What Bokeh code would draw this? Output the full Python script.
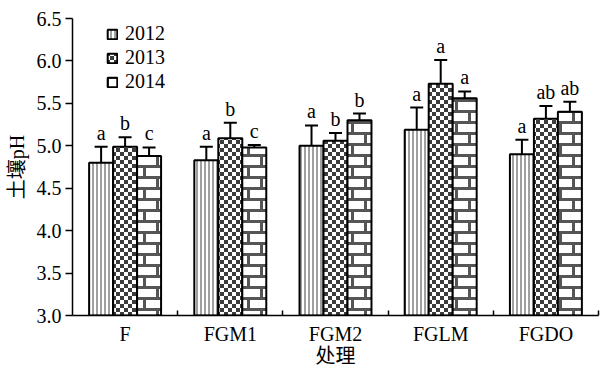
import base64, struct, zlib
from bokeh.plotting import figure
from bokeh.models import (ColumnDataSource, FixedTicker, Whisker, TeeHead, Legend, LegendItem,
                          ImageURLTexture, PrintfTickFormatter)
from bokeh.core.properties import value
from bokeh.embed import file_html
from bokeh.resources import INLINE

# ---- data ----
treatments = ["F", "FGM1", "FGM2", "FGLM", "FGDO"]
years = ["2012", "2013", "2014"]
ph_2012 = [4.80, 4.83, 5.00, 5.19, 4.90]
ph_2013 = [4.99, 5.09, 5.06, 5.73, 5.32]
ph_2014 = [4.88, 4.98, 5.30, 5.56, 5.40]
err_2012 = [0.19, 0.16, 0.24, 0.26, 0.17]
err_2013 = [0.11, 0.18, 0.09, 0.28, 0.15]
err_2014 = [0.10, 0.03, 0.08, 0.08, 0.12]
sig_2012 = ["a", "a", "a", "a", "a"]
sig_2013 = ["b", "b", "b", "a", "ab"]
sig_2014 = ["c", "c", "b", "a", "ab"]
y_ticks = [3.0, 3.5, 4.0, 4.5, 5.0, 5.5, 6.0, 6.5]


def png_data_url(rows):
    h = len(rows); w = len(rows[0])
    raw = b"".join(b"\x00" + bytes([c for px in r for c in px]) for r in rows)
    def chunk(t, d):
        c = struct.pack(">I", len(d)) + t + d
        return c + struct.pack(">I", zlib.crc32(t + d) & 0xffffffff)
    png = b"\x89PNG\r\n\x1a\n" + chunk(b"IHDR", struct.pack(">IIBBBBB", w, h, 8, 2, 0, 0, 0)) \
        + chunk(b"IDAT", zlib.compress(raw)) + chunk(b"IEND", b"")
    return "data:image/png;base64," + base64.b64encode(png).decode()

W = (255, 255, 255)
G = (160, 160, 160)
D = (60, 60, 60)
M = (85, 85, 85)

stripes = [[G, G, W, W] for _ in range(4)]
checker = [[(D if ((x // 4) + (y // 4)) % 2 == 0 else W) for x in range(8)] for y in range(8)]
brick = []
for y in range(22):
    row = []
    for x in range(26):
        yy = y % 11
        if yy < 3:
            row.append(M)
        else:
            if y < 11:
                row.append(M if x < 3 else W)
            else:
                row.append(M if 13 <= x < 16 else W)
    brick.append(row)

textures = {
    "t2012": ImageURLTexture(url=png_data_url(stripes), repetition="repeat"),
    "t2013": ImageURLTexture(url=png_data_url(checker), repetition="repeat"),
    "t2014": ImageURLTexture(url=png_data_url(brick), repetition="repeat"),
}

SERIF = "Liberation Serif, Noto Sans CJK SC"
FS = "20px"

p = figure(frame_width=526, frame_height=297, x_range=(0, 5), y_range=(3.0, 6.5),
           output_backend="svg", toolbar_location=None,
           min_border_left=72, min_border_top=18, min_border_right=4, min_border_bottom=0)
p.outline_line_color = None
p.xgrid.visible = False
p.ygrid.visible = False
p.background_fill_color = None
p.border_fill_color = "white"

bw = 0.228
offsets = [-bw, 0.0, bw]
series = [(ph_2012, err_2012, sig_2012), (ph_2013, err_2013, sig_2013), (ph_2014, err_2014, sig_2014)]
items = []
for k, (vals, errs, sigs) in enumerate(series):
    key = "t" + years[k]
    xs = [i + 0.5 + offsets[k] for i in range(len(treatments))]
    src = ColumnDataSource(dict(x=xs, top=vals, upper=[v + e for v, e in zip(vals, errs)],
                                sig=sigs, hp=[key] * len(xs)))
    r = p.vbar(x="x", top="top", bottom=3.0, width=bw, source=src,
               fill_color="white", line_color="black", line_width=2,
               hatch_pattern="hp", hatch_extra=textures, hatch_alpha=1.0)
    items.append(LegendItem(label=years[k], renderers=[r]))
    w = Whisker(base="x", lower="top", upper="upper", source=src, dimension="height",
                line_color="black", line_width=2,
                upper_head=TeeHead(size=13, line_width=2, line_color="black"), lower_head=None)
    p.add_layout(w)
    p.text(x="x", y="upper", text="sig", source=src, text_align="center", text_baseline="bottom",
           y_offset=-3, text_font=value("Liberation Serif"), text_font_size=FS, text_color="black")

legend = Legend(items=items, location=(34, 222), background_fill_alpha=0, border_line_color=None,
                glyph_width=12, glyph_height=12, label_text_font=SERIF, label_text_font_size=FS,
                label_text_color="black",
                label_standoff=7, spacing=1, padding=0, margin=0, label_height=21)
p.add_layout(legend)

# axes
for ax in (p.xaxis, p.yaxis):
    ax.axis_line_width = 1.5
    ax.axis_line_color = "black"
    ax.major_label_text_font = SERIF
    ax.major_label_text_font_size = FS
    ax.major_label_text_color = "black"
    ax.axis_label_text_font = SERIF
    ax.axis_label_text_font_style = "normal"
    ax.axis_label_text_font_size = FS
    ax.axis_label_text_color = "black"

p.yaxis.ticker = FixedTicker(ticks=y_ticks)
p.yaxis.formatter = PrintfTickFormatter(format="%.1f")
p.yaxis.major_tick_in = 0
p.yaxis.major_tick_out = 7
p.yaxis.major_tick_line_color = "black"
p.yaxis.minor_tick_line_color = None
p.yaxis.major_tick_line_width = 1.5
p.yaxis.major_label_standoff = 4
p.yaxis.axis_label = "土壤pH"
p.yaxis.axis_label_standoff = 6

centers = [i + 0.5 for i in range(len(treatments))]
p.xaxis.ticker = FixedTicker(ticks=centers, minor_ticks=[1, 2, 3, 4, 5])
p.xaxis.major_label_overrides = {c: t for c, t in zip(centers, treatments)}
p.xaxis.major_tick_line_color = None
p.xaxis.minor_tick_in = 5
p.xaxis.minor_tick_out = 0
p.xaxis.minor_tick_line_color = "black"
p.xaxis.minor_tick_line_width = 1.5
p.xaxis.major_label_standoff = 1
p.xaxis.axis_label = "处理"
p.xaxis.axis_label_standoff = -3

open("out.html", "w").write(file_html(p, INLINE))
